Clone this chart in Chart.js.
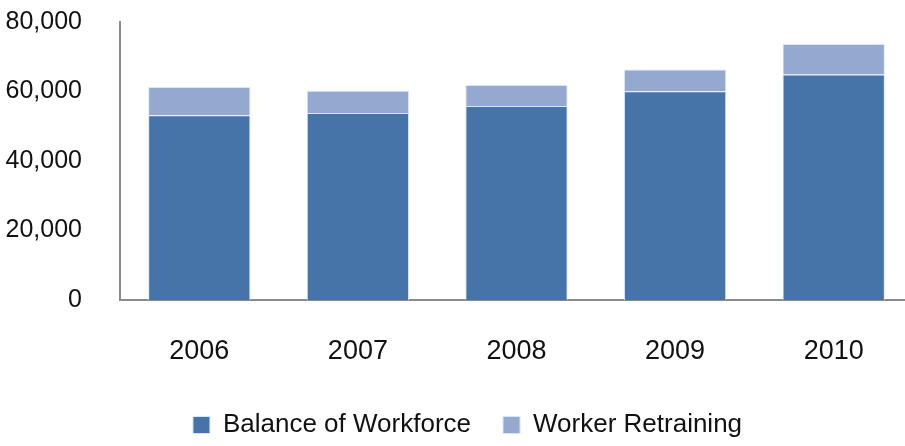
<!DOCTYPE html>
<html>
<head>
<meta charset="utf-8">
<script src="https://cdn.jsdelivr.net/npm/chart.js@4/dist/chart.umd.min.js"></script>
<style>
  html, body { margin: 0; padding: 0; background: #fff; overflow: hidden; }
  #wrap { width: 913px; height: 446px; }
</style>
</head>
<body>
<div id="wrap"><canvas id="workChart"></canvas></div>
<script>
    var years = ['2006', '2007', '2008', '2009', '2010'];
    var balanceOfWorkforce = [53200, 53800, 55800, 60100, 64900];
    var workerRetraining = [8100, 6400, 6100, 6200, 8800];
    var yTicks = [0, 20000, 40000, 60000, 80000];

    var fontFamily = '"Liberation Sans", Arial, sans-serif';

    var workData = {
        labels: years,
        datasets: [{
            label: 'Balance of Workforce',
            data: balanceOfWorkforce,
            backgroundColor: '#4674a8',
            borderColor: '#dbe5f3',
            borderWidth: 1
        }, {
            label: 'Worker Retraining',
            data: workerRetraining,
            backgroundColor: '#95a9d0',
            borderColor: '#dbe5f3',
            borderWidth: 1
        }]
    };

    // legend sits a little right of the canvas centre in the original
    var shiftLegend = {
        id: 'shiftLegend',
        afterLayout: function (chart) {
            if (chart.legend) {
                chart.legend.left += 11;
                chart.legend.right += 11;
            }
        }
    };

    var chartOptions = {
        responsive: true,
        maintainAspectRatio: false,
        animation: false,
        categoryPercentage: 0.645,
        barPercentage: 1,
        layout: {
            padding: { left: 0, top: 22, right: 0, bottom: -2 }
        },
        scales: {
            x: {
                stacked: true,
                grid: { display: false, drawTicks: false },
                border: { display: true, color: '#8a8a8a', width: 2 },
                ticks: {
                    color: '#111',
                    padding: 35,
                    font: { family: fontFamily, size: 27 }
                },
                // axis box reaches from the plot bottom down to the legend
                afterFit: function (axis) {
                    axis.height = 80;
                }
            },
            y: {
                stacked: true,
                min: 0,
                max: 80000,
                afterBuildTicks: function (axis) {
                    axis.ticks = yTicks.map(function (v) { return { value: v }; });
                },
                afterFit: function (axis) {
                    axis.width = 120;
                    axis.paddingTop = 0;
                    axis.paddingBottom = 0;
                },
                grid: { display: false, drawTicks: false },
                border: { display: true, color: '#8a8a8a', width: 2 },
                ticks: {
                    color: '#111',
                    padding: 38,
                    font: { family: fontFamily, size: 25 },
                    callback: function (v) { return v.toLocaleString('en-US'); }
                }
            }
        },
        plugins: {
            tooltip: { enabled: false },
            legend: {
                position: 'bottom',
                labels: {
                    color: '#111',
                    boxWidth: 17,
                    boxHeight: 17,
                    padding: 32,
                    font: { family: fontFamily, size: 26 }
                }
            }
        }
    };

    var ctx = document.getElementById('workChart').getContext('2d');
    var myChart = new Chart(ctx, {
        type: 'bar',
        data: workData,
        options: chartOptions,
        plugins: [shiftLegend]
    });
</script>
</body>
</html>
